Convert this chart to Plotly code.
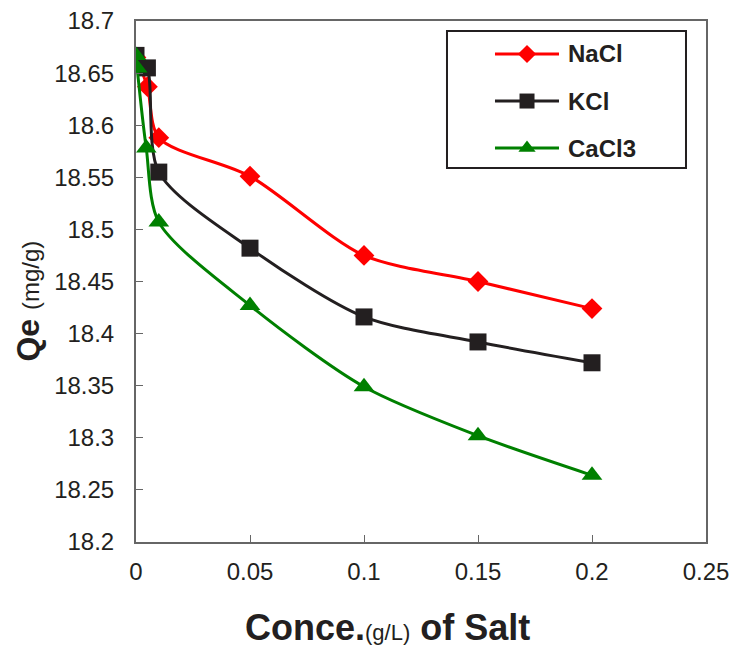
import plotly.graph_objects as go

x_nacl = [0, 0.005, 0.01, 0.05, 0.1, 0.15, 0.2]
y_nacl = [18.665, 18.637, 18.588, 18.551, 18.475, 18.450, 18.424]

x_kcl = [0, 0.005, 0.01, 0.05, 0.1, 0.15, 0.2]
y_kcl = [18.667, 18.655, 18.555, 18.482, 18.416, 18.392, 18.372]

x_cacl = [0, 0.0005, 0.0045, 0.01, 0.05, 0.1, 0.15, 0.2]
y_cacl = [18.667, 18.655, 18.578, 18.507, 18.427, 18.349, 18.302, 18.264]

series_names = ["NaCl", "KCl", "CaCl3"]
series_colors = ["#FF0000", "#231F20", "#008000"]
series_symbols = ["diamond", "square", "triangle-up"]
series_sizes = [16, 17, 18]

x_ticks = [0, 0.05, 0.1, 0.15, 0.2, 0.25]
x_ticklabels = ["0", "0.05", "0.1", "0.15", "0.2", "0.25"]
y_ticks = [18.2, 18.25, 18.3, 18.35, 18.4, 18.45, 18.5, 18.55, 18.6, 18.65, 18.7]
y_ticklabels = ["18.2", "18.25", "18.3", "18.35", "18.4", "18.45", "18.5", "18.55", "18.6", "18.65", "18.7"]

FONT = "Liberation Sans, Arial, sans-serif"
AXC = "#666666"

fig = go.Figure()
for name, xs, ys, col, sym, sz in zip(series_names, [x_nacl, x_kcl, x_cacl], [y_nacl, y_kcl, y_cacl],
                                      series_colors, series_symbols, series_sizes):
    fig.add_trace(go.Scatter(x=xs, y=ys, name=name, mode="lines+markers",
                             line=dict(color=col, width=3, shape="spline", smoothing=0.8),
                             marker=dict(symbol=sym, size=sz, color=col, opacity=1,
                                         line=dict(width=0)),
                             showlegend=False))

# manual legend (layout positions in paper fractions)
leg_box = dict(x0=0.5456, x1=0.9649, y0=0.7179, y1=0.9808)
leg_rows = [0.9367, 0.8464, 0.7562]
leg_line_x = (0.6298, 0.7421)
leg_mark_x = 0.686
leg_text_x = 0.7544

fig.add_shape(type="rect", xref="paper", yref="paper", **leg_box,
              line=dict(color="#231F20", width=2), fillcolor="rgba(0,0,0,0)", layer="above")
for ry, col in zip(leg_rows, series_colors):
    fig.add_shape(type="line", xref="paper", yref="paper", x0=leg_line_x[0], x1=leg_line_x[1],
                  y0=ry, y1=ry, line=dict(color=col, width=3), layer="below")
fig.add_trace(go.Scatter(x=[leg_mark_x] * 3, y=leg_rows, xaxis="x2", yaxis="y2", mode="markers",
                         marker=dict(symbol=series_symbols, size=[14, 15, 15], color=series_colors,
                                     opacity=1, line=dict(width=0)),
                         showlegend=False, hoverinfo="skip", cliponaxis=False))
for ry, name in zip(leg_rows, series_names):
    fig.add_annotation(x=leg_text_x, y=ry, xref="paper", yref="paper", text="<b>" + name + "</b>",
                       showarrow=False, xanchor="left", yanchor="middle",
                       font=dict(family=FONT, size=24, color="#231F20"))

# axis titles
fig.add_annotation(x=0.442, y=-0.165, xref="paper", yref="paper",
                   text="<b>Conce.</b><span style='font-size:22px'>(g/L)</span><b> of Salt</b>",
                   showarrow=False, xanchor="center", yanchor="middle",
                   font=dict(family=FONT, size=36, color="#231F20"))
fig.add_annotation(x=-0.189, y=0.462, xref="paper", yref="paper", textangle=-90,
                   text="<b>Qe</b> <span style='font-size:24px'>(mg/g)</span>",
                   showarrow=False, xanchor="center", yanchor="middle",
                   font=dict(family=FONT, size=32, color="#231F20"))

fig.update_layout(
    width=732, height=647,
    margin=dict(l=136, r=26, t=21, b=105),
    paper_bgcolor="white", plot_bgcolor="rgba(0,0,0,0)",
    font=dict(family=FONT, size=24, color="#231F20"),
    showlegend=False,
    xaxis=dict(range=[0, 0.25], tickmode="array", tickvals=x_ticks, ticktext=x_ticklabels,
               ticks="inside", ticklen=7, tickcolor=AXC, showline=True, linecolor=AXC,
               linewidth=2, mirror=True, showgrid=False, zeroline=False,
               ticklabelstandoff=7, ticklabeloverflow="allow", automargin=False),
    yaxis=dict(range=[18.2, 18.7], tickmode="array", tickvals=y_ticks, ticktext=y_ticklabels,
               ticks="inside", ticklen=7, tickcolor=AXC, showline=True, linecolor=AXC,
               linewidth=2, mirror=True, showgrid=False, zeroline=False,
               ticklabelstandoff=15, ticklabeloverflow="allow", automargin=False),
    xaxis2=dict(overlaying="x", range=[0, 1], visible=False, fixedrange=True),
    yaxis2=dict(overlaying="y", range=[0, 1], visible=False, fixedrange=True),
)

fig.write_html("out.html")
